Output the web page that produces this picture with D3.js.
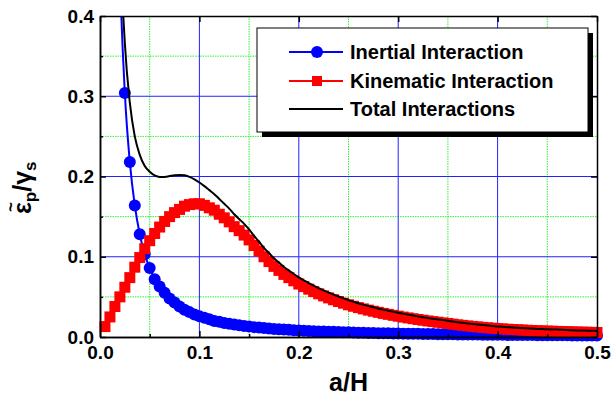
<!DOCTYPE html>
<html>
<head>
<meta charset="utf-8">
<script src="https://cdn.jsdelivr.net/npm/d3@7/dist/d3.min.js"></script>
<style>
  body { margin: 0; background: #fff; }
  svg { display: block; font-family: Arial, "Liberation Sans", sans-serif; }
  .axis text { font-weight: bold; font-size: 19px; fill: #000; }
  .axis path, .axis line { stroke: #000; stroke-width: 1.5; }
</style>
</head>
<body>
<script>
// a/H sample points
var aH = [
  0.005, 0.010, 0.015, 0.020, 0.025, 0.030, 0.035, 0.040, 0.045, 0.050,
  0.055, 0.060, 0.065, 0.070, 0.075, 0.080, 0.085, 0.090, 0.095, 0.100,
  0.105, 0.110, 0.115, 0.120, 0.125, 0.130, 0.135, 0.140, 0.145, 0.150,
  0.155, 0.160, 0.165, 0.170, 0.175, 0.180, 0.185, 0.190, 0.195, 0.200,
  0.205, 0.210, 0.215, 0.220, 0.225, 0.230, 0.235, 0.240, 0.245, 0.250,
  0.255, 0.260, 0.265, 0.270, 0.275, 0.280, 0.285, 0.290, 0.295, 0.300,
  0.305, 0.310, 0.315, 0.320, 0.325, 0.330, 0.335, 0.340, 0.345, 0.350,
  0.355, 0.360, 0.365, 0.370, 0.375, 0.380, 0.385, 0.390, 0.395, 0.400,
  0.405, 0.410, 0.415, 0.420, 0.425, 0.430, 0.435, 0.440, 0.445, 0.450,
  0.455, 0.460, 0.465, 0.470, 0.475, 0.480, 0.485, 0.490, 0.495, 0.500
];

var inertial = [
  6.5, 1.8, 0.80, 0.46, 0.304, 0.218, 0.164, 0.128, 0.103, 0.086,
  0.072, 0.063, 0.055, 0.048, 0.043, 0.038, 0.034, 0.031, 0.028, 0.026,
  0.024, 0.022, 0.020, 0.019, 0.0175, 0.0165, 0.0155, 0.0145, 0.0137, 0.0130,
  0.0123, 0.0117, 0.0111, 0.0106, 0.0101, 0.0097, 0.0093, 0.0089, 0.0085, 0.0082,
  0.0079, 0.0076, 0.0073, 0.0070, 0.0068, 0.0066, 0.0064, 0.0062, 0.0060, 0.0058,
  0.0056, 0.0054, 0.0053, 0.0051, 0.0050, 0.0048, 0.0047, 0.0046, 0.0045, 0.0043,
  0.0042, 0.0041, 0.0040, 0.0039, 0.0038, 0.0037, 0.0036, 0.0035, 0.0035, 0.0034,
  0.0033, 0.0032, 0.0032, 0.0031, 0.0030, 0.0030, 0.0029, 0.0028, 0.0028, 0.0027,
  0.0027, 0.0026, 0.0026, 0.0025, 0.0025, 0.0024, 0.0024, 0.0023, 0.0023, 0.0022,
  0.0022, 0.0022, 0.0021, 0.0021, 0.0020, 0.0020, 0.0020, 0.0019, 0.0019, 0.0019
];

var kinematic = [
  0.013, 0.025, 0.038, 0.050, 0.062, 0.074, 0.087, 0.099, 0.110, 0.120,
  0.129, 0.137, 0.144, 0.150, 0.155, 0.159, 0.163, 0.165, 0.166, 0.166,
  0.164, 0.161, 0.158, 0.153, 0.1485, 0.1435, 0.1375, 0.1325, 0.127, 0.121,
  0.114, 0.107, 0.100, 0.094, 0.088, 0.083, 0.078, 0.074, 0.070, 0.066,
  0.0628, 0.0596, 0.0566, 0.0538, 0.0512, 0.0487, 0.0464, 0.0442, 0.0421, 0.0401,
  0.0383, 0.0366, 0.0350, 0.0335, 0.0321, 0.0307, 0.0294, 0.0282, 0.0270, 0.0259,
  0.0248, 0.0238, 0.0228, 0.0218, 0.0209, 0.0200, 0.0192, 0.0184, 0.0176, 0.0169,
  0.0160, 0.0152, 0.0145, 0.0138, 0.0132, 0.0126, 0.0120, 0.0115, 0.0110, 0.0105,
  0.0101, 0.0097, 0.0093, 0.0090, 0.0087, 0.0084, 0.0081, 0.0078, 0.0076, 0.0074,
  0.0072, 0.0070, 0.0068, 0.0066, 0.0064, 0.0062, 0.0061, 0.0059, 0.0058, 0.0056
];

var total = [
  6.5, 1.83, 0.84, 0.51, 0.366, 0.292, 0.250, 0.227, 0.213, 0.206,
  0.2015, 0.1995, 0.1995, 0.2005, 0.2015, 0.202, 0.2015, 0.1995, 0.1965, 0.1925,
  0.188, 0.183, 0.178, 0.172, 0.166, 0.160, 0.153, 0.147, 0.141, 0.134,
  0.126, 0.1187, 0.111, 0.1046, 0.0981, 0.0927, 0.0873, 0.0829, 0.0785, 0.0742,
  0.0707, 0.0672, 0.0639, 0.0608, 0.0580, 0.0553, 0.0528, 0.0504, 0.0481, 0.0459,
  0.0439, 0.0420, 0.0403, 0.0386, 0.0371, 0.0355, 0.0341, 0.0328, 0.0315, 0.0302,
  0.0290, 0.0279, 0.0268, 0.0257, 0.0247, 0.0237, 0.0228, 0.0219, 0.0211, 0.0203,
  0.0193, 0.0184, 0.0177, 0.0169, 0.0162, 0.0156, 0.0149, 0.0143, 0.0138, 0.0132,
  0.0128, 0.0123, 0.0119, 0.0115, 0.0112, 0.0108, 0.0105, 0.0101, 0.0099, 0.0096,
  0.0094, 0.0092, 0.0089, 0.0087, 0.0084, 0.0082, 0.0081, 0.0078, 0.0077, 0.0075
];

var xTicks = [0, 0.1, 0.2, 0.3, 0.4, 0.5];
var xMinor = [0.05, 0.15, 0.25, 0.35, 0.45];
var yTicks = [0, 0.1, 0.2, 0.3, 0.4];
var yMinor = [0.05, 0.15, 0.25, 0.35];
var legendNames = ["Inertial Interaction", "Kinematic Interaction", "Total Interactions"];

var margin = { top: 16, right: 15, bottom: 59, left: 100 },
  width = 612 - margin.left - margin.right,
  height = 396 - margin.top - margin.bottom;

var x = d3.scaleLinear().domain([0, 0.5]).range([0, width]);
var y = d3.scaleLinear().domain([0, 0.4]).range([height, 0]);

var svg = d3.select("body").append("svg")
  .attr("width", 612)
  .attr("height", 396);

var g = svg.append("g")
  .attr("transform", "translate(" + margin.left + "," + margin.top + ")");

g.append("clipPath").attr("id", "plot-clip")
  .append("rect").attr("width", width).attr("height", height);

// grid: green dotted minor, blue major
g.selectAll(".gx-minor").data(xMinor).enter().append("line")
  .attr("x1", d => x(d)).attr("x2", d => x(d))
  .attr("y1", 0).attr("y2", height)
  .attr("stroke", "#33ee33").attr("stroke-width", 1).attr("stroke-dasharray", "1.5,1");
g.selectAll(".gy-minor").data(yMinor).enter().append("line")
  .attr("x1", 0).attr("x2", width)
  .attr("y1", d => y(d)).attr("y2", d => y(d))
  .attr("stroke", "#33ee33").attr("stroke-width", 1).attr("stroke-dasharray", "1.5,1");
g.selectAll(".gx-major").data(xTicks.slice(1, -1)).enter().append("line")
  .attr("x1", d => x(d)).attr("x2", d => x(d))
  .attr("y1", 0).attr("y2", height)
  .attr("stroke", "#2222ff").attr("stroke-width", 1);
g.selectAll(".gy-major").data(yTicks.slice(1, -1)).enter().append("line")
  .attr("x1", 0).attr("x2", width)
  .attr("y1", d => y(d)).attr("y2", d => y(d))
  .attr("stroke", "#2222ff").attr("stroke-width", 1);

var pts = function (vals) {
  return aH.map(function (a, i) { return { x: a, y: vals[i] }; });
};
var line = d3.line()
  .x(d => x(d.x))
  .y(d => y(d.y))
  .curve(d3.curveMonotoneX);
var inRange = d => d.y <= 0.4;

var plot = g.append("g");

// inertial (blue circles)
plot.append("path").datum(pts(inertial))
  .attr("clip-path", "url(#plot-clip)")
  .attr("d", line).attr("fill", "none")
  .attr("stroke", "#0000ff").attr("stroke-width", 2);
plot.selectAll(".dot").data(pts(inertial).filter(inRange)).enter().append("circle")
  .attr("cx", d => x(d.x)).attr("cy", d => y(d.y))
  .attr("r", 6).attr("fill", "#0000ff");

// kinematic (red squares)
plot.append("path").datum(pts(kinematic))
  .attr("clip-path", "url(#plot-clip)")
  .attr("d", line).attr("fill", "none")
  .attr("stroke", "#ff0000").attr("stroke-width", 2);
plot.selectAll(".sq").data(pts(kinematic).filter(inRange)).enter().append("rect")
  .attr("x", d => x(d.x) - 5.5).attr("y", d => y(d.y) - 5.5)
  .attr("width", 11).attr("height", 11).attr("fill", "#ff0000");

// total
plot.append("path").datum(pts(total))
  .attr("clip-path", "url(#plot-clip)")
  .attr("d", line).attr("fill", "none")
  .attr("stroke", "#000").attr("stroke-width", 2);

// axes with inward ticks
g.append("g").attr("class", "axis")
  .attr("transform", "translate(0," + height + ")")
  .call(d3.axisBottom(x).tickValues(xTicks).tickFormat(d3.format(".1f"))
    .tickSizeInner(-6).tickSizeOuter(0).tickPadding(9));
g.append("g").attr("class", "axis")
  .call(d3.axisLeft(y).tickValues(yTicks).tickFormat(d3.format(".1f"))
    .tickSizeInner(-6).tickSizeOuter(0).tickPadding(6));
g.append("g").attr("class", "axis")
  .attr("transform", "translate(0," + height + ")")
  .call(d3.axisBottom(x).tickValues(xMinor).tickFormat("").tickSizeInner(-3).tickSizeOuter(0));
g.append("g").attr("class", "axis")
  .call(d3.axisLeft(y).tickValues(yMinor).tickFormat("").tickSizeInner(-3).tickSizeOuter(0));
g.append("g").attr("class", "axis")
  .call(d3.axisTop(x).tickValues(xTicks).tickFormat("").tickSizeInner(-6).tickSizeOuter(0));
g.append("g").attr("class", "axis")
  .attr("transform", "translate(" + width + ",0)")
  .call(d3.axisRight(y).tickValues(yTicks).tickFormat("").tickSizeInner(-6).tickSizeOuter(0));

// axis titles
svg.append("text")
  .attr("x", margin.left + width / 2).attr("y", 391)
  .attr("text-anchor", "middle")
  .style("font-weight", "bold").style("font-size", "25px")
  .text("a/H");

var ylab = svg.append("g").attr("transform", "translate(31,214) rotate(-90)");
var yt = ylab.append("text")
  .style("font-weight", "bold").style("font-size", "25px");
yt.append("tspan").text("\u03b5");
yt.append("tspan").attr("dy", 5).style("font-size", "17px").text("p");
yt.append("tspan").attr("dy", -5).text("/\u03b3");
yt.append("tspan").attr("dy", 5).style("font-size", "17px").text("s");
ylab.append("text")
  .attr("x", 7).attr("y", -15)
  .attr("text-anchor", "middle")
  .style("font-weight", "bold").style("font-size", "17px")
  .text("~");

// legend
var lg = svg.append("g").attr("transform", "translate(257,28)");
lg.append("rect").attr("x", 5).attr("y", 5).attr("width", 331).attr("height", 104).attr("fill", "#000");
lg.append("rect").attr("width", 331).attr("height", 104)
  .attr("fill", "#fff").attr("stroke", "#000").attr("stroke-width", 1);

var colors = ["#0000ff", "#ff0000", "#000"];
var rowY = [24, 53, 81];
legendNames.forEach(function (name, i) {
  lg.append("line").attr("x1", 32).attr("x2", 86)
    .attr("y1", rowY[i]).attr("y2", rowY[i])
    .attr("stroke", colors[i]).attr("stroke-width", 2);
  if (i === 0) {
    lg.append("circle").attr("cx", 60).attr("cy", rowY[i]).attr("r", 6).attr("fill", colors[i]);
  } else if (i === 1) {
    lg.append("rect").attr("x", 55).attr("y", rowY[i] - 5).attr("width", 10).attr("height", 10).attr("fill", colors[i]);
  }
  lg.append("text").attr("x", 93).attr("y", rowY[i] + 7)
    .style("font-weight", "bold").style("font-size", "20px")
    .text(name);
});
</script>
</body>
</html>
